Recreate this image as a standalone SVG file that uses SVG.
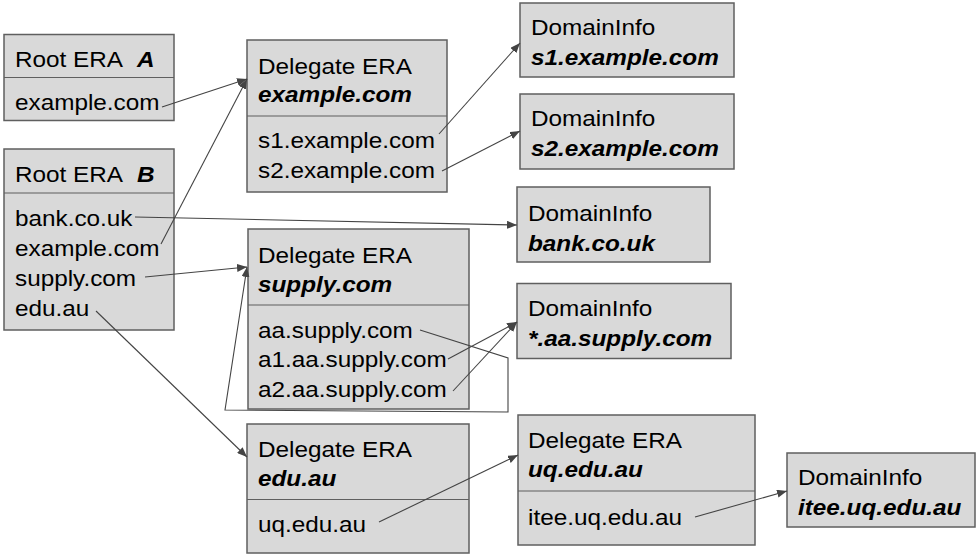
<svg xmlns="http://www.w3.org/2000/svg" width="979" height="555" viewBox="0 0 979 555">
<defs>
<style>
.box{fill:#d9d9d9;stroke:#5f5f5f;stroke-width:1.5}
.div{stroke:#5f5f5f;stroke-width:1.2}
text{font-family:"Liberation Sans",Arial,sans-serif;font-size:22px;fill:#000}
.b{font-weight:bold;font-style:italic}
.c{fill:none;stroke:#444;stroke-width:1.1}
</style>
<marker id="ah" viewBox="0 0 10 8" refX="10" refY="4" markerWidth="10" markerHeight="8" markerUnits="userSpaceOnUse" orient="auto">
<path d="M0,0 L10,4 L0,8 Z" fill="#444"/>
</marker>
</defs>
<rect width="979" height="555" fill="#fff"/>

<g id="rootA">
<rect class="box" x="4" y="34.5" width="170" height="86"/>
<line class="div" x1="4" y1="77.5" x2="174" y2="77.5"/>
<text transform="translate(15,67) scale(1.105,1)">Root ERA</text>
<text class="b" transform="translate(137,67) scale(1.105,1)">A</text>
<text transform="translate(15,110) scale(1.105,1)">example.com</text>
</g>

<g id="rootB">
<rect class="box" x="4" y="149" width="170" height="181"/>
<line class="div" x1="4" y1="193" x2="174" y2="193"/>
<text transform="translate(15,182) scale(1.105,1)">Root ERA</text>
<text class="b" transform="translate(137,182) scale(1.105,1)">B</text>
<text transform="translate(15,226) scale(1.105,1)">bank.co.uk</text>
<text transform="translate(15,256) scale(1.105,1)">example.com</text>
<text transform="translate(15,286) scale(1.105,1)">supply.com</text>
<text transform="translate(15,316) scale(1.105,1)">edu.au</text>
</g>

<g id="delExample">
<rect class="box" x="247" y="40" width="200" height="152"/>
<line class="div" x1="247" y1="116" x2="447" y2="116"/>
<text transform="translate(258,74) scale(1.105,1)">Delegate ERA</text>
<text class="b" transform="translate(258,102) scale(1.105,1)">example.com</text>
<text transform="translate(258,148) scale(1.105,1)">s1.example.com</text>
<text transform="translate(258,178) scale(1.105,1)">s2.example.com</text>
</g>

<g id="infoS1">
<rect class="box" x="520" y="3" width="214" height="74"/>
<text transform="translate(531,35) scale(1.105,1)">DomainInfo</text>
<text class="b" transform="translate(531,65) scale(1.105,1)">s1.example.com</text>
</g>

<g id="infoS2">
<rect class="box" x="520" y="94" width="214" height="75"/>
<text transform="translate(531,126) scale(1.105,1)">DomainInfo</text>
<text class="b" transform="translate(531,156) scale(1.105,1)">s2.example.com</text>
</g>

<g id="infoBank">
<rect class="box" x="517" y="187" width="193" height="75"/>
<text transform="translate(528,221) scale(1.105,1)">DomainInfo</text>
<text class="b" transform="translate(528,251) scale(1.105,1)">bank.co.uk</text>
</g>

<g id="delSupply">
<rect class="box" x="248" y="229" width="221" height="180"/>
<line class="div" x1="248" y1="305" x2="469" y2="305"/>
<text transform="translate(258,263) scale(1.105,1)">Delegate ERA</text>
<text class="b" transform="translate(258,292) scale(1.105,1)">supply.com</text>
<text transform="translate(258,338) scale(1.105,1)">aa.supply.com</text>
<text transform="translate(258,367) scale(1.105,1)">a1.aa.supply.com</text>
<text transform="translate(258,397) scale(1.105,1)">a2.aa.supply.com</text>
</g>

<g id="infoAA">
<rect class="box" x="517" y="283.5" width="214" height="75"/>
<text transform="translate(528,316) scale(1.105,1)">DomainInfo</text>
<text class="b" transform="translate(528,346) scale(1.105,1)">*.aa.supply.com</text>
</g>

<g id="delEdu">
<rect class="box" x="247" y="424" width="222" height="129"/>
<line class="div" x1="247" y1="499.5" x2="469" y2="499.5"/>
<text transform="translate(258,457) scale(1.105,1)">Delegate ERA</text>
<text class="b" transform="translate(258,486) scale(1.105,1)">edu.au</text>
<text transform="translate(258,532) scale(1.105,1)">uq.edu.au</text>
</g>

<g id="delUq">
<rect class="box" x="518" y="415" width="237" height="130"/>
<line class="div" x1="518" y1="491" x2="755" y2="491"/>
<text transform="translate(528,448) scale(1.105,1)">Delegate ERA</text>
<text class="b" transform="translate(528,477) scale(1.105,1)">uq.edu.au</text>
<text transform="translate(528,525) scale(1.105,1)">itee.uq.edu.au</text>
</g>

<g id="infoItee">
<rect class="box" x="787" y="453" width="188" height="74"/>
<text transform="translate(798,485) scale(1.105,1)">DomainInfo</text>
<text class="b" transform="translate(798,515) scale(1.105,1)">itee.uq.edu.au</text>
</g>

<g id="connectors">
<line class="c" x1="162" y1="107" x2="247" y2="79" marker-end="url(#ah)"/>
<line class="c" x1="161" y1="244" x2="247" y2="79" marker-end="url(#ah)"/>
<line class="c" x1="135" y1="217" x2="517" y2="225" marker-end="url(#ah)"/>
<line class="c" x1="145" y1="277" x2="247" y2="267" marker-end="url(#ah)"/>
<line class="c" x1="96" y1="311" x2="247" y2="457" marker-end="url(#ah)"/>
<line class="c" x1="439" y1="134" x2="520" y2="43" marker-end="url(#ah)"/>
<line class="c" x1="442" y1="171" x2="520" y2="131" marker-end="url(#ah)"/>
<polyline class="c" points="420,330 508,358 508,412 225,410 247,267" marker-end="url(#ah)"/>
<line class="c" x1="448" y1="359" x2="517" y2="322" marker-end="url(#ah)"/>
<line class="c" x1="453" y1="391" x2="517" y2="322" marker-end="url(#ah)"/>
<line class="c" x1="379" y1="522" x2="518" y2="455" marker-end="url(#ah)"/>
<line class="c" x1="695" y1="517" x2="787" y2="491" marker-end="url(#ah)"/>
</g>
</svg>
